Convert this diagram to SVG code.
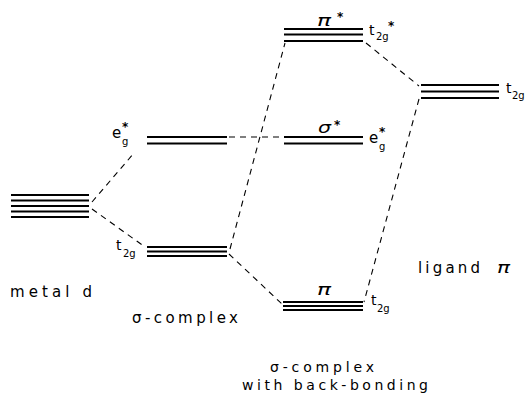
<svg xmlns="http://www.w3.org/2000/svg" width="528" height="399" viewBox="0 0 528 399">
<style>
.lv{stroke:#000;stroke-width:2;fill:none}
.dash{stroke:#000;stroke-width:1.1;stroke-dasharray:6 5;fill:none}
text{font-family:"DejaVu Sans","Liberation Sans",sans-serif;fill:#000}
.lab{font-size:14px}
.big{font-size:15px}
.sm{font-size:14px}
.sub{font-size:10px}
.star{font-size:12px;font-weight:bold}
.gr{font-size:16px;font-style:italic;font-weight:200}
</style>
<rect width="528" height="399" fill="#fff"/>
<g id="connectors">
<line class="dash" x1="92" y1="202" x2="134" y2="153"/>
<line class="dash" x1="92" y1="209" x2="145" y2="247"/>
<line class="dash" x1="229" y1="137" x2="283" y2="137"/>
<line class="dash" x1="230" y1="249" x2="285" y2="43"/>
<line class="dash" x1="229" y1="254" x2="282" y2="304"/>
<line class="dash" x1="366" y1="43" x2="419" y2="86"/>
<line class="dash" x1="419" y1="99" x2="364" y2="302"/>
</g>
<g id="metal-d">
<line class="lv" x1="11" y1="195" x2="89" y2="195"/>
<line class="lv" x1="11" y1="200.5" x2="89" y2="200.5"/>
<line class="lv" x1="11" y1="206" x2="89" y2="206"/>
<line class="lv" x1="11" y1="211.5" x2="89" y2="211.5"/>
<line class="lv" x1="11" y1="217" x2="89" y2="217"/>
<text class="big" x="10" y="297" textLength="82" lengthAdjust="spacing">metal  d</text>
</g>
<g id="sigma-eg">
<line class="lv" x1="147" y1="137" x2="227" y2="137"/>
<line class="lv" x1="147" y1="143.5" x2="227" y2="143.5"/>
<text class="big" x="112" y="138">e</text>
<text class="sub" x="122" y="145">g</text>
<text class="star" x="122" y="131">*</text>
</g>
<g id="sigma-t2g">
<line class="lv" x1="147" y1="247" x2="227" y2="247"/>
<line class="lv" x1="147" y1="251.5" x2="227" y2="251.5"/>
<line class="lv" x1="147" y1="256" x2="227" y2="256"/>
<text class="lab" x="116" y="250">t</text>
<text class="sub" x="123" y="257">2g</text>
</g>
<g id="sigma-complex-label">
<text class="big" x="132" y="323" textLength="106" lengthAdjust="spacing">σ-complex</text>
</g>
<g id="pi-star">
<line class="lv" x1="284" y1="29" x2="363" y2="29"/>
<line class="lv" x1="284" y1="34.5" x2="363" y2="34.5"/>
<line class="lv" x1="284" y1="41" x2="363" y2="41"/>
<text class="gr" x="317" y="26" textLength="14" lengthAdjust="spacingAndGlyphs">π</text>
<text class="star" x="337" y="21">*</text>
<text class="lab" x="369" y="35">t</text>
<text class="sub" x="376" y="40">2g</text>
<text class="star" x="388" y="30">*</text>
</g>
<g id="sigma-star">
<line class="lv" x1="284" y1="137" x2="363" y2="137"/>
<line class="lv" x1="284" y1="143.5" x2="363" y2="143.5"/>
<text class="gr" x="318" y="133" textLength="13" lengthAdjust="spacingAndGlyphs">σ</text>
<text class="star" x="334" y="129">*</text>
<text class="big" x="369" y="143">e</text>
<text class="sub" x="379" y="150">g</text>
<text class="star" x="379" y="136">*</text>
</g>
<g id="pi-bonding">
<line class="lv" x1="283" y1="302" x2="363" y2="302"/>
<line class="lv" x1="283" y1="306" x2="363" y2="306"/>
<line class="lv" x1="283" y1="310" x2="363" y2="310"/>
<text class="gr" x="317" y="295" textLength="14" lengthAdjust="spacingAndGlyphs">π</text>
<text class="lab" x="371" y="305">t</text>
<text class="sub" x="377" y="312">2g</text>
</g>
<g id="backbonding-label">
<text class="sm" x="270" y="372" textLength="104" lengthAdjust="spacing">σ-complex</text>
<text class="sm" x="242" y="390" textLength="186" lengthAdjust="spacing">with back-bonding</text>
</g>
<g id="ligand-pi">
<line class="lv" x1="421" y1="85" x2="499" y2="85"/>
<line class="lv" x1="421" y1="91.5" x2="499" y2="91.5"/>
<line class="lv" x1="421" y1="98" x2="499" y2="98"/>
<text class="lab" x="506" y="93">t</text>
<text class="sub" x="512" y="99">2g</text>
<text class="big" x="418" y="273" textLength="62" lengthAdjust="spacing">ligand</text>
<text class="gr" x="497" y="273" textLength="13" lengthAdjust="spacingAndGlyphs">π</text>
</g>
</svg>
